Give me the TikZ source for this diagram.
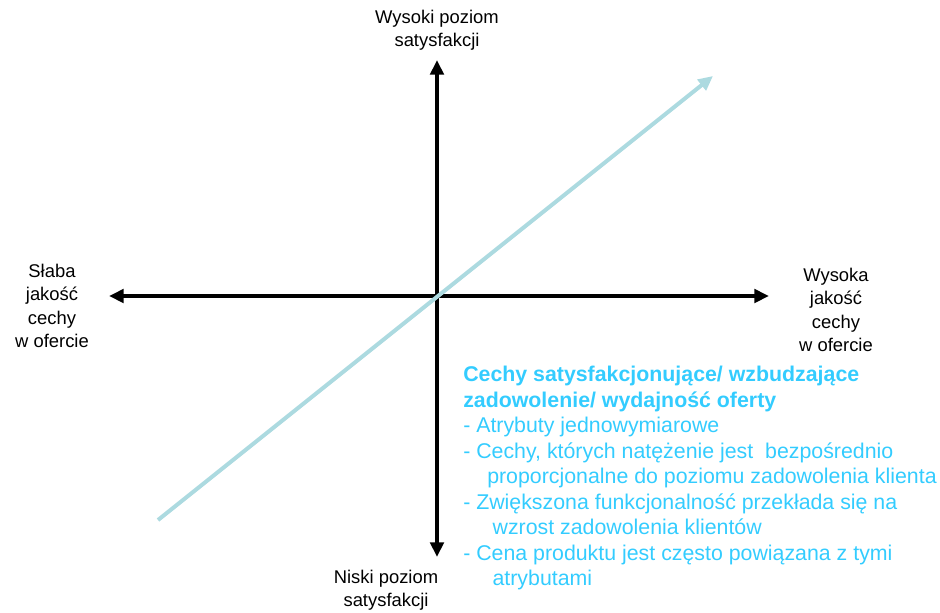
\documentclass[tikz,border=0pt]{standalone}
\usepackage{fontspec}
\setmainfont{Liberation Sans}
\usetikzlibrary{arrows.meta}
\definecolor{LineTeal}{RGB}{172,218,224}
\definecolor{NoteBlue}{RGB}{51,204,255}

\begin{document}
\begin{tikzpicture}[x=0.75pt, y=-0.75pt,
  every node/.style={font=\fontsize{13.8}{17.5}\selectfont, align=center, inner sep=0pt},
  axis/.style={line width=3pt, -{Triangle[length=11pt, width=10pt]}}]
  \useasboundingbox (0,0) rectangle (940,612);
  % axes
  \coordinate (o) at (437,296);
  \coordinate (up) at (437,60);
  \coordinate (down) at (437,557);
  \coordinate (left) at (109,296);
  \coordinate (right) at (769,296);
  \coordinate (diagstart) at (158,520);
  \coordinate (diagend) at (713,76);
  \draw[axis] (o) -- (up);
  \draw[axis] (o) -- (down);
  \draw[axis] (o) -- (left);
  \draw[axis] (o) -- (right);
  \draw[LineTeal, line width=3pt, -{Triangle[length=11pt, width=10pt]}] (diagstart) -- (diagend);
  % labels
  \node (high) at (437,30) {Wysoki poziom\\satysfakcji};
  \node (low) at (386,590) {Niski poziom\\satysfakcji};
  \node (weak) at (52,306) {Słaba\\jakość\\cechy\\w ofercie};
  \node (strong) at (836,310) {Wysoka\\jakość\\cechy\\w ofercie};
  \node[anchor=north west, align=left, text=NoteBlue,
    font=\fontsize{16}{19.1}\selectfont] (note) at (463,366)
    {\textbf{Cechy satysfakcjonujące/ wzbudzające}\\
     \textbf{zadowolenie/ wydajność oferty}\\
     - Atrybuty jednowymiarowe\\
     - Cechy, których natężenie jest\ \ bezpośrednio\\
     \hspace*{18pt}proporcjonalne do poziomu zadowolenia klienta\\
     - Zwiększona funkcjonalność przekłada się na\\
     \hspace*{22pt}wzrost zadowolenia klientów\\
     - Cena produktu jest często powiązana z tymi\\
     \hspace*{22pt}atrybutami};
\end{tikzpicture}
\end{document}
